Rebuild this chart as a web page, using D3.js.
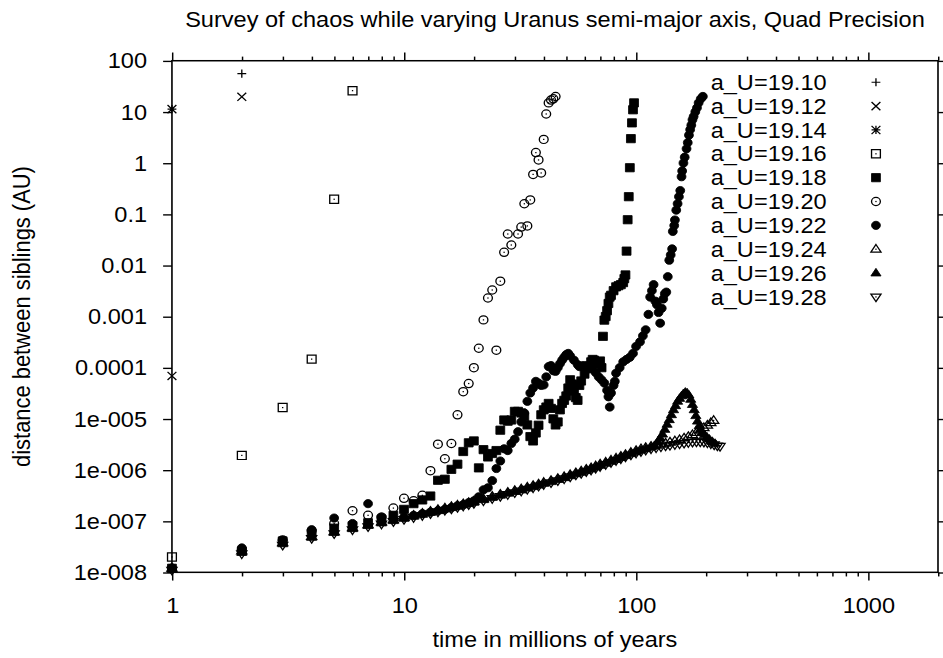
<!DOCTYPE html>
<html>
<head>
<meta charset="utf-8">
<script src="https://cdn.jsdelivr.net/npm/d3@7/dist/d3.min.js"></script>
<style>
html, body { margin: 0; padding: 0; background: #fff; }
svg { display: block; }
</style>
</head>
<body>
<svg id="chart"></svg>
<script>
'use strict';

// values: [time in Myr, distance in AU]
var s1910 = [[1,1.2e-8],[2,56]];
var s1912 = [[1,6.9e-5],[2,19.7]];
var s1914 = [[1,11.3]];
var s1916 = [[1,2.0e-8],[2,1.93e-6],[3,1.66e-5],[4,1.47e-4],[5,0.196],[6,26]];
var s1918 = [[1,1.2e-8],[2,2.6e-8],[3,4.1e-8],[4,5.8e-8],[5,7.3e-8],[6,8.1e-8],[7,9.3e-8],[8,1.09e-7],[9,1.3e-7],[10,1.7e-7],
	[11,2.2e-7],[12,2.6e-7],[13,3.1e-7],[14,6.3e-7],[15,6.6e-7],[16,1.03e-6],[17,1.3e-6],[18,2.3e-6],[19,3.4e-6],[20,3.7e-6],
	[21,1.1e-6],[22,2.5e-6],[23,1.8e-6],[24,2.1e-6],[25,2.4e-6],[26,6.0e-6],[27,9.5e-6],[28,9.0e-6],[29,9.5e-6],[30,1.4e-5],
	[31,1.4e-5],[32,1.3e-5],[33,1.1e-5],[34,7.6e-6],[35,4.5e-6],[36,3.7e-6],[37,5.3e-6],[38,7.5e-6],[39,1.2e-5],[40,1.5e-5],
	[41,1.7e-5],[42,2.0e-5],[43,1.6e-5],[44,1.0e-5],[45,7.6e-6],[46,8.7e-6],[47,1.5e-5],[48,2.0e-5],[49,2.3e-5],[50,2.8e-5],
	[51,4.0e-5],[52,5.8e-5],[53,4.8e-5],[54,3.5e-5],[55,2.6e-5],[56,2.3e-5],[57,4.5e-5],[58,5.5e-5],[60,7.5e-5],[62,9.5e-5],
	[64,1.3e-4],[65,1.45e-4],[66,1.4e-4],[68,1.2e-4],[70,1.35e-4],[71,1.0e-4],[72,4.1e-4],[73,8.5e-4],[74,1.0e-3],[75,1.3e-3],
	[76,1.8e-3],[77,2.4e-3],[78,2.6e-3],[80,3.2e-3],[82,3.8e-3],[84,4.0e-3],[86,4.2e-3],[88,4.6e-3],[89,5.5e-3],[90,6.5e-3],
	[91,0.019],[92,0.078],[93,0.22],[94,0.81],[95,3.0],[96,6.1],[97,11],[98,15]];
var s1920 = [[1,1.2e-8],[2,2.8e-8],[3,4.3e-8],[4,6.5e-8],[5,9.0e-8],[6,1.6e-7],[7,1.3e-7],[8,1.2e-7],[9,1.8e-7],[10,2.8e-7],
	[11,2.5e-7],[12,3.2e-7],[13,9.7e-7],[14,3.2e-6],[15,1.66e-6],[16,3.3e-6],[17,1.2e-5],[18,3.4e-5],[19,4.9e-5],[20,1.0e-4],
	[21,2.4e-4],[22,8.6e-4],[23,2.3e-3],[24,3.3e-3],[25,2.2e-4],[26,4.9e-3],[27,0.018],[28,0.041],[29,0.025],[31,0.041],
	[32,0.056],[33,0.16],[34,0.059],[35,0.19],[36,0.6],[37,1.6],[38,1.15],[39,0.64],[40,2.9],[41,9.1],
	[42,15],[43,17],[44,18],[45,20]];
var s1922 = [[1,1.2e-8],[2,3.0e-8],[3,4.2e-8],[4,6.8e-8],[5,1.15e-7],[6,9.0e-8],[7,2.2e-7],[8,1.2e-7],[9,1.1e-7],[10,1.2e-7],
	[11,1.3e-7],[12,1.4e-7],[13,1.5e-7],[14,1.6e-7],[15,1.7e-7],[16,1.85e-7],[17,2.0e-7],[18,2.1e-7],[19,2.3e-7],[20,2.5e-7],
	[21,3.0e-7],[22,4.1e-7],[23,4.5e-7],[24,6.2e-7],[25,1.07e-6],[26,1.5e-6],[27,2.6e-6],[28,2.4e-6],[29,3.3e-6],[30,4.0e-6],
	[31,5.6e-6],[32,8.7e-6],[33,1.3e-5],[34,2.2e-5],[35,3.2e-5],[36,4.0e-5],[37,5.4e-5],[38,5.0e-5],[39,4.5e-5],[40,4.6e-5],
	[41,6.6e-5],[42,1.05e-4],[43,1.1e-4],[44,8.7e-5],[45,8.5e-5],[46,1.0e-4],[47,1.2e-4],[48,1.4e-4],[49,1.6e-4],[50,1.8e-4],
	[51,1.9e-4],[52,1.7e-4],[54,1.4e-4],[56,1.15e-4],[57,1.05e-4],[59,1.1e-4],[61,1.1e-4],[63,1.1e-4],[65,1.05e-4],[67,8.0e-5],
	[69,6.6e-5],[71,5.8e-5],[73,5.0e-5],[75,3.6e-5],[76,2.7e-5],[77,1.7e-5],[78,3.2e-5],[80,4.5e-5],[81,5.4e-5],[82,7.8e-5],
	[85,1.0e-4],[88,1.3e-4],[91,1.45e-4],[94,1.6e-4],[97,1.9e-4],[100,2.6e-4],[104,3.2e-4],[107,4.2e-4],[110,5.5e-4],[113,1.1e-3],
	[115,2.4e-3],[117,3.2e-3],[119,4.2e-3],[121,2.0e-3],[123,1.7e-3],[125,1.2e-3],[127,7.4e-4],[129,1.45e-3],[131,2.2e-3],[133,2.8e-3],
	[135,3.0e-3],[137,6.0e-3],[139,0.0126],[141,0.016],[143,0.021],[144,0.046],[146,0.06],[147,0.077],[149,0.12],[151,0.16],
	[153,0.22],[155,0.29],[157,0.54],[158,0.7],[160,1.0],[162,1.3],[165,1.9],[167,2.5],[169,3.5],[171,4.5],
	[173,5.5],[175,7.0],[177,8.1],[180,10],[183,12],[186,15],[190,18],[194,20]];
var s1924 = [[1,1.2e-8],[2,2.6e-8],[3,3.8e-8],[4,5.0e-8],[5,6.2e-8],[6,7.4e-8],[7,8.5e-8],[8,9.6e-8],[9,1.07e-7],[10,1.18e-7],
	[11,1.3e-7],[12,1.42e-7],[13,1.55e-7],[14,1.68e-7],[15,1.8e-7],[16,1.92e-7],[17,2.05e-7],[18,2.18e-7],[19,2.3e-7],[20,2.45e-7],
	[22,2.75e-7],[24,3.05e-7],[26,3.35e-7],[28,3.65e-7],[30,3.95e-7],[32,4.25e-7],[34,4.6e-7],[36,4.95e-7],[38,5.3e-7],[40,5.7e-7],
	[43,6.2e-7],[46,6.8e-7],[49,7.4e-7],[52,8.1e-7],[55,8.8e-7],[58,9.5e-7],[61,1.03e-6],[64,1.1e-6],[67,1.2e-6],[70,1.3e-6],
	[74,1.42e-6],[78,1.55e-6],[82,1.7e-6],[86,1.85e-6],[90,2.0e-6],[95,2.2e-6],[100,2.4e-6],[105,2.6e-6],[110,2.75e-6],[116,2.9e-6],
	[122,3.05e-6],[128,3.2e-6],[134,3.35e-6],[140,3.5e-6],[147,3.7e-6],[154,3.9e-6],[161,4.2e-6],[168,4.5e-6],[175,4.9e-6],[182,5.4e-6],
	[189,6.0e-6],[196,6.7e-6],[203,7.5e-6],[210,8.4e-6],[216,9.3e-6]];
var s1926 = [[1,1.15e-8],[2,2.45e-8],[3,3.6e-8],[4,4.8e-8],[5,6.0e-8],[6,7.1e-8],[7,8.2e-8],[8,9.2e-8],[9,1.02e-7],[10,1.13e-7],
	[11,1.24e-7],[12,1.35e-7],[13,1.47e-7],[14,1.6e-7],[15,1.72e-7],[16,1.83e-7],[17,1.95e-7],[18,2.08e-7],[19,2.2e-7],[20,2.33e-7],
	[22,2.62e-7],[24,2.9e-7],[26,3.2e-7],[28,3.5e-7],[30,3.78e-7],[32,4.05e-7],[34,4.4e-7],[36,4.72e-7],[38,5.05e-7],[40,5.45e-7],
	[43,5.9e-7],[46,6.5e-7],[49,7.05e-7],[52,7.7e-7],[55,8.4e-7],[58,9.0e-7],[61,9.7e-7],[64,1.05e-6],[67,1.14e-6],[70,1.23e-6],
	[74,1.35e-6],[78,1.47e-6],[82,1.6e-6],[86,1.75e-6],[90,1.9e-6],[95,2.08e-6],[100,2.27e-6],[105,2.45e-6],[110,2.6e-6],[116,2.8e-6],
	[120,3.0e-6],[124,3.6e-6],[127,4.2e-6],[130,5.0e-6],[133,6.2e-6],[136,7.8e-6],[139,9.6e-6],[142,1.2e-5],[145,1.5e-5],[148,1.8e-5],
	[151,2.2e-5],[154,2.5e-5],[157,2.8e-5],[160,3.1e-5],[163,3.3e-5],[166,3.2e-5],[169,2.9e-5],[172,2.4e-5],[175,1.9e-5],[178,1.5e-5],
	[181,1.15e-5],[184,9.0e-6],[187,7.3e-6],[190,6.2e-6],[193,5.5e-6],[197,4.9e-6],[202,4.4e-6],[207,4.0e-6],[213,3.6e-6],[219,3.3e-6]];
var s1928 = [[1,1.1e-8],[2,2.3e-8],[3,3.4e-8],[4,4.6e-8],[5,5.7e-8],[6,6.8e-8],[7,7.8e-8],[8,8.8e-8],[9,9.8e-8],[10,1.08e-7],
	[11,1.18e-7],[12,1.29e-7],[13,1.4e-7],[14,1.52e-7],[15,1.63e-7],[16,1.74e-7],[17,1.86e-7],[18,1.98e-7],[19,2.1e-7],[20,2.22e-7],
	[22,2.5e-7],[24,2.77e-7],[26,3.05e-7],[28,3.32e-7],[30,3.6e-7],[32,3.88e-7],[34,4.2e-7],[36,4.5e-7],[38,4.85e-7],[40,5.2e-7],
	[43,5.65e-7],[46,6.2e-7],[49,6.75e-7],[52,7.35e-7],[55,8.0e-7],[58,8.6e-7],[61,9.3e-7],[64,1.0e-6],[67,1.08e-6],[70,1.17e-6],
	[74,1.28e-6],[78,1.4e-6],[82,1.53e-6],[86,1.66e-6],[90,1.8e-6],[95,1.97e-6],[100,2.15e-6],[105,2.3e-6],[110,2.45e-6],[116,2.6e-6],
	[122,2.72e-6],[128,2.84e-6],[134,2.95e-6],[140,3.05e-6],[147,3.15e-6],[154,3.25e-6],[161,3.35e-6],[168,3.45e-6],[175,3.5e-6],[182,3.55e-6],
	[189,3.55e-6],[196,3.5e-6],[203,3.4e-6],[210,3.25e-6],[217,3.1e-6],[224,2.95e-6],[230,2.9e-6]];

var seriesNames = ['a_U=19.10','a_U=19.12','a_U=19.14','a_U=19.16','a_U=19.18',
	'a_U=19.20','a_U=19.22','a_U=19.24','a_U=19.26','a_U=19.28'];
var seriesPoints = ['plus','cross','star','box','boxf','circle','circlef','tri','trif','itri'];
var seriesData = [s1910, s1912, s1914, s1916, s1918, s1920, s1922, s1924, s1926, s1928];

var xTicks = [1, 10, 100, 1000];
var xTickLabels = ['1', '10', '100', '1000'];
var xMinor = [2,3,4,5,6,7,8,9,20,30,40,50,60,70,80,90,200,300,400,500,600,700,800,900,2000];
var yTicks = [100, 10, 1, 0.1, 0.01, 0.001, 1e-4, 1e-5, 1e-6, 1e-7, 1e-8];
var yTickLabels = ['100','10','1','0.1','0.01','0.001','0.0001','1e-005','1e-006','1e-007','1e-008'];

// the picture is a 640x480 gnuplot canvas stretched to the window
var svg = d3.select('#chart')
	.attr('width', 943)
	.attr('height', 658)
	.attr('viewBox', '0 0 640 480')
	.attr('preserveAspectRatio', 'none')
	.attr('font-family', '"Liberation Sans", Arial, Helvetica, sans-serif')
	.attr('font-size', 16)
	;

var plot = {left: 116.7, right: 636.6, top: 44.3, bottom: 417.5};

var x = d3.scaleLog().domain([1, 2000]).range([plot.left, plot.right]);
var y = d3.scaleLog().domain([1e-8, 100]).range([plot.bottom, plot.top]);

function styleAxis(g) {
	g.attr('font-size', 16).attr('font-family', null);
	g.select('.domain').remove();
	g.selectAll('line').attr('stroke', '#000').attr('stroke-width', 1);
	g.selectAll('text').attr('fill', '#000');
}

svg.append('g')
	.attr('transform', 'translate(0,' + plot.bottom + ')')
	.call(d3.axisBottom(x).tickValues(xTicks)
		.tickFormat(function(d, i) { return xTickLabels[i]; })
		.tickSize(6).tickPadding(12))
	.call(styleAxis);
svg.append('g')
	.attr('transform', 'translate(0,' + plot.bottom + ')')
	.call(d3.axisBottom(x).tickValues(xMinor).tickFormat('').tickSize(3))
	.call(styleAxis);
svg.append('g')
	.attr('transform', 'translate(0,' + plot.top + ')')
	.call(d3.axisTop(x).tickValues(xTicks).tickFormat('').tickSize(6))
	.call(styleAxis);
svg.append('g')
	.attr('transform', 'translate(0,' + plot.top + ')')
	.call(d3.axisTop(x).tickValues(xMinor).tickFormat('').tickSize(3))
	.call(styleAxis);
svg.append('g')
	.attr('transform', 'translate(' + plot.left + ',0)')
	.call(d3.axisLeft(y).tickValues(yTicks)
		.tickFormat(function(d, i) { return yTickLabels[i]; })
		.tickSize(6).tickPadding(10.9))
	.call(styleAxis);
svg.append('g')
	.attr('transform', 'translate(' + plot.right + ',0)')
	.call(d3.axisRight(y).tickValues(yTicks).tickFormat('').tickSize(6))
	.call(styleAxis);

svg.append('rect')
	.attr('x', plot.left)
	.attr('y', plot.top)
	.attr('width', plot.right - plot.left)
	.attr('height', plot.bottom - plot.top)
	.attr('fill', 'none')
	.attr('stroke', '#000')
	.attr('stroke-width', 1.1)
	;

// gnuplot point types
var P = 3;
function pointPath(kind, p) {
	var h = p * 1.15;
	switch (kind) {
	case 'plus': return 'M' + (-p) + ',0H' + p + 'M0,' + (-p) + 'V' + p;
	case 'cross': return 'M' + (-p) + ',' + (-p) + 'L' + p + ',' + p + 'M' + (-p) + ',' + p + 'L' + p + ',' + (-p);
	case 'star': return pointPath('plus', p) + pointPath('cross', p);
	case 'box': case 'boxf':
		return 'M' + (-p) + ',' + (-p) + 'H' + p + 'V' + p + 'H' + (-p) + 'Z';
	case 'circle': case 'circlef':
		return 'M' + p + ',0A' + p + ',' + p + ' 0 1,1 ' + (-p) + ',0A' + p + ',' + p + ' 0 1,1 ' + p + ',0Z';
	case 'tri': case 'trif':
		return 'M0,' + (-h) + 'L' + h + ',' + (0.7 * p) + 'H' + (-h) + 'Z';
	case 'itri':
		return 'M0,' + h + 'L' + h + ',' + (-0.7 * p) + 'H' + (-h) + 'Z';
	}
}
var filled = {boxf: true, circlef: true, trif: true};
var dotted = {box: true, circle: true, tri: true, itri: true};

function drawPoint(sel, kind) {
	sel.append('path')
		.attr('d', pointPath(kind, P))
		.attr('fill', filled[kind] ? '#000' : 'none')
		.attr('stroke', '#000')
		.attr('stroke-width', filled[kind] ? 0.6 : 0.9)
		;
	if (dotted[kind]) {
		sel.append('rect')
			.attr('x', -0.45).attr('y', -0.45)
			.attr('width', 0.9).attr('height', 0.9)
			.attr('fill', '#000');
	}
}

var points = svg.append('g');
seriesData.forEach(function(data, si) {
	var kind = seriesPoints[si];
	points.append('g')
		.selectAll('g')
		.data(data)
		.enter()
		.append('g')
			.attr('transform', function(d) { return 'translate(' + x(d[0]) + ',' + y(d[1]) + ')'; })
			.each(function() { drawPoint(d3.select(this), kind); })
		;
});

// key
var key = svg.append('g');
seriesNames.forEach(function(name, i) {
	var ky = 60 + i * 17.4;
	key.append('text')
		.attr('x', 561)
		.attr('y', ky)
		.attr('dy', '0.35em')
		.attr('text-anchor', 'end')
		.text(name);
	drawPoint(key.append('g').attr('transform', 'translate(594.5,' + ky + ')'), seriesPoints[i]);
});

svg.append('text')
	.attr('x', (plot.left + plot.right) / 2)
	.attr('y', 19.5)
	.attr('text-anchor', 'middle')
	.text('Survey of chaos while varying Uranus semi-major axis, Quad Precision');

svg.append('text')
	.attr('x', (plot.left + plot.right) / 2)
	.attr('y', 472)
	.attr('text-anchor', 'middle')
	.text('time in millions of years');

svg.append('text')
	.attr('transform', 'translate(20.5,' + ((plot.top + plot.bottom) / 2) + ') rotate(-90)')
	.attr('text-anchor', 'middle')
	.text('distance between siblings (AU)');
</script>
</body>
</html>
